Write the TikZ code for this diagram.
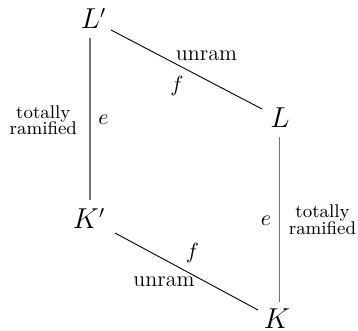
\documentclass[tikz,border=0pt]{standalone}
\begin{document}
\begin{tikzpicture}[x=0.5pt,y=-0.5pt,
  obj/.style={inner sep=0pt,font=\fontsize{13.5}{16}\selectfont},
  lbl/.style={inner sep=0pt,font=\fontsize{11}{13}\selectfont},
  side/.style={inner sep=0pt,align=center,font=\fontsize{9.2}{8.4}\selectfont},
  dedge/.style={line width=0.45pt,draw=black},
  vedge/.style={line width=0.6pt,draw=black!55}]
\useasboundingbox (0,0) rectangle (358,331);
\node[obj] (Lp) at (93.5,18.5) {$L'$};
\node[obj] (L)  at (280,117.5) {$L$};
\node[obj] (Kp) at (89,218.5) {$K'$};
\node[obj] (K)  at (277,318.5) {$K$};
\draw[dedge] ([shift={(17.5,11.5)}]Lp.center) -- ([shift={(-18,-8.5)}]L.center);
\draw[dedge] ([shift={(26,14.5)}]Kp.center) -- ([shift={(-19,-8.5)}]K.center);
\draw[vedge] ([shift={(-3.5,19.5)}]Lp.center) -- ([shift={(1,-18.5)}]Kp.center);
\draw[vedge] ([shift={(-0.5,19.5)}]L.center) -- ([shift={(2.5,-16.5)}]K.center);
\node[lbl] (u1) at (206.5,56) {unram};
\node[lbl] (f1) at (177,86) {$f$};
\node[lbl] (u2) at (164,282) {unram};
\node[lbl] (f2) at (192.5,253.5) {$f$};
\node[lbl] (e1) at (103.5,119.5) {$e$};
\node[lbl] (e2) at (266,220.5) {$e$};
\node[side] (t1) at (43.3,120.3) {totally\\ramified};
\node[side] (t2) at (322.5,219.5) {totally\\ramified};
\end{tikzpicture}
\end{document}
